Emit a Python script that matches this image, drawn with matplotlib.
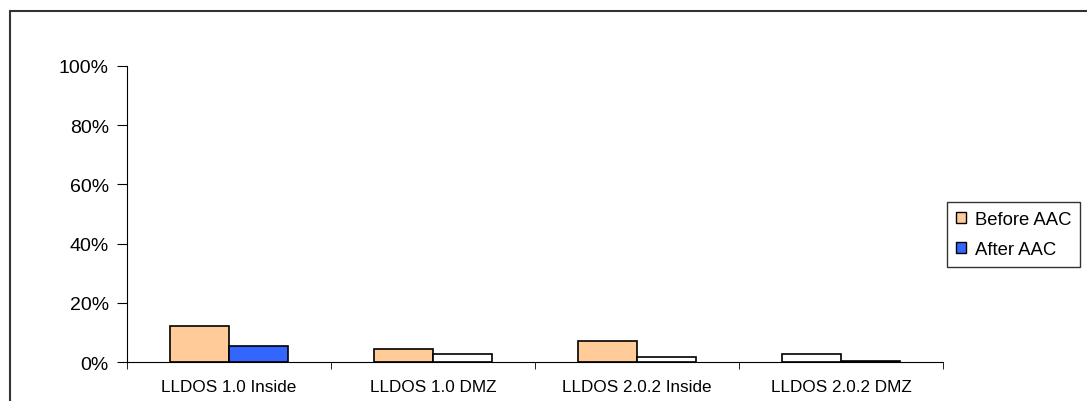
import numpy as np
import matplotlib.pyplot as plt
from matplotlib.patches import Rectangle, Patch

plt.rcParams['font.family'] = ['Liberation Sans', 'DejaVu Sans']

categories = ['LLDOS 1.0 Inside', 'LLDOS 1.0 DMZ', 'LLDOS 2.0.2 Inside', 'LLDOS 2.0.2 DMZ']
before_aac = [12.2, 4.3, 7.2, 2.7]
after_aac = [5.4, 2.7, 1.6, 0.5]
series_names = ['Before AAC', 'After AAC']

# fill of each bar, one entry per category
before_colors = ['#FFCC99', '#FFCC99', '#FFCC99', '#FFFFFF']
after_colors = ['#3366FF', '#FFFFFF', '#FFFFFF', '#000000']

fig = plt.figure(figsize=(10.87, 4.02), dpi=100)
ax = fig.add_axes([127 / 1087, 1 - 363 / 402, (943 - 127) / 1087, (363 - 67) / 402])

# outer chart frame
fig.patches.append(Rectangle((10 / 1087, -0.1), 1.2, 1 - 12 / 402 + 0.1,
                             transform=fig.transFigure, fill=False,
                             edgecolor='#333333', linewidth=1.5))

x = np.arange(len(categories))
w = 0.29
ax.bar(x - w / 2, before_aac, w, color=before_colors, edgecolor='black', linewidth=1.2)
ax.bar(x + w / 2, after_aac, w, color=after_colors, edgecolor='black', linewidth=1.2)

ax.set_xlim(-0.5, len(categories) - 0.5)
ax.set_ylim(0, 100)
ax.set_yticks(np.arange(0, 101, 20))
ax.set_yticklabels([f'{v}%' for v in range(0, 101, 20)], fontsize=14)
ax.set_xticks(x)
ax.set_xticklabels(categories, fontsize=12.3)
ax.tick_params(axis='x', length=0, pad=12)
ax.set_xticks(np.arange(-0.5, len(categories)), minor=True)
ax.tick_params(axis='x', which='minor', length=5, direction='out', color='black')
ax.tick_params(axis='y', length=7, direction='out', color='black', pad=6)

for s in ['top', 'right']:
    ax.spines[s].set_visible(False)
ax.spines['left'].set_color('black')
ax.spines['bottom'].set_color('black')
ax.spines['left'].set_linewidth(0.8)
ax.spines['bottom'].set_linewidth(0.8)

handles = [Patch(facecolor='#FFCC99', edgecolor='black'),
           Patch(facecolor='#3366FF', edgecolor='black')]
leg = fig.legend(handles, series_names, loc='upper left',
                 bbox_to_anchor=(947 / 1087, 1 - 203 / 402),
                 fontsize=13.3, frameon=True, fancybox=False,
                 handlelength=0.55, handleheight=0.55, handletextpad=0.45,
                 borderpad=0.5, labelspacing=0.7, borderaxespad=0)
leg.get_frame().set_edgecolor('black')
leg.get_frame().set_linewidth(1.0)

fig.savefig('out.png', dpi=100)
